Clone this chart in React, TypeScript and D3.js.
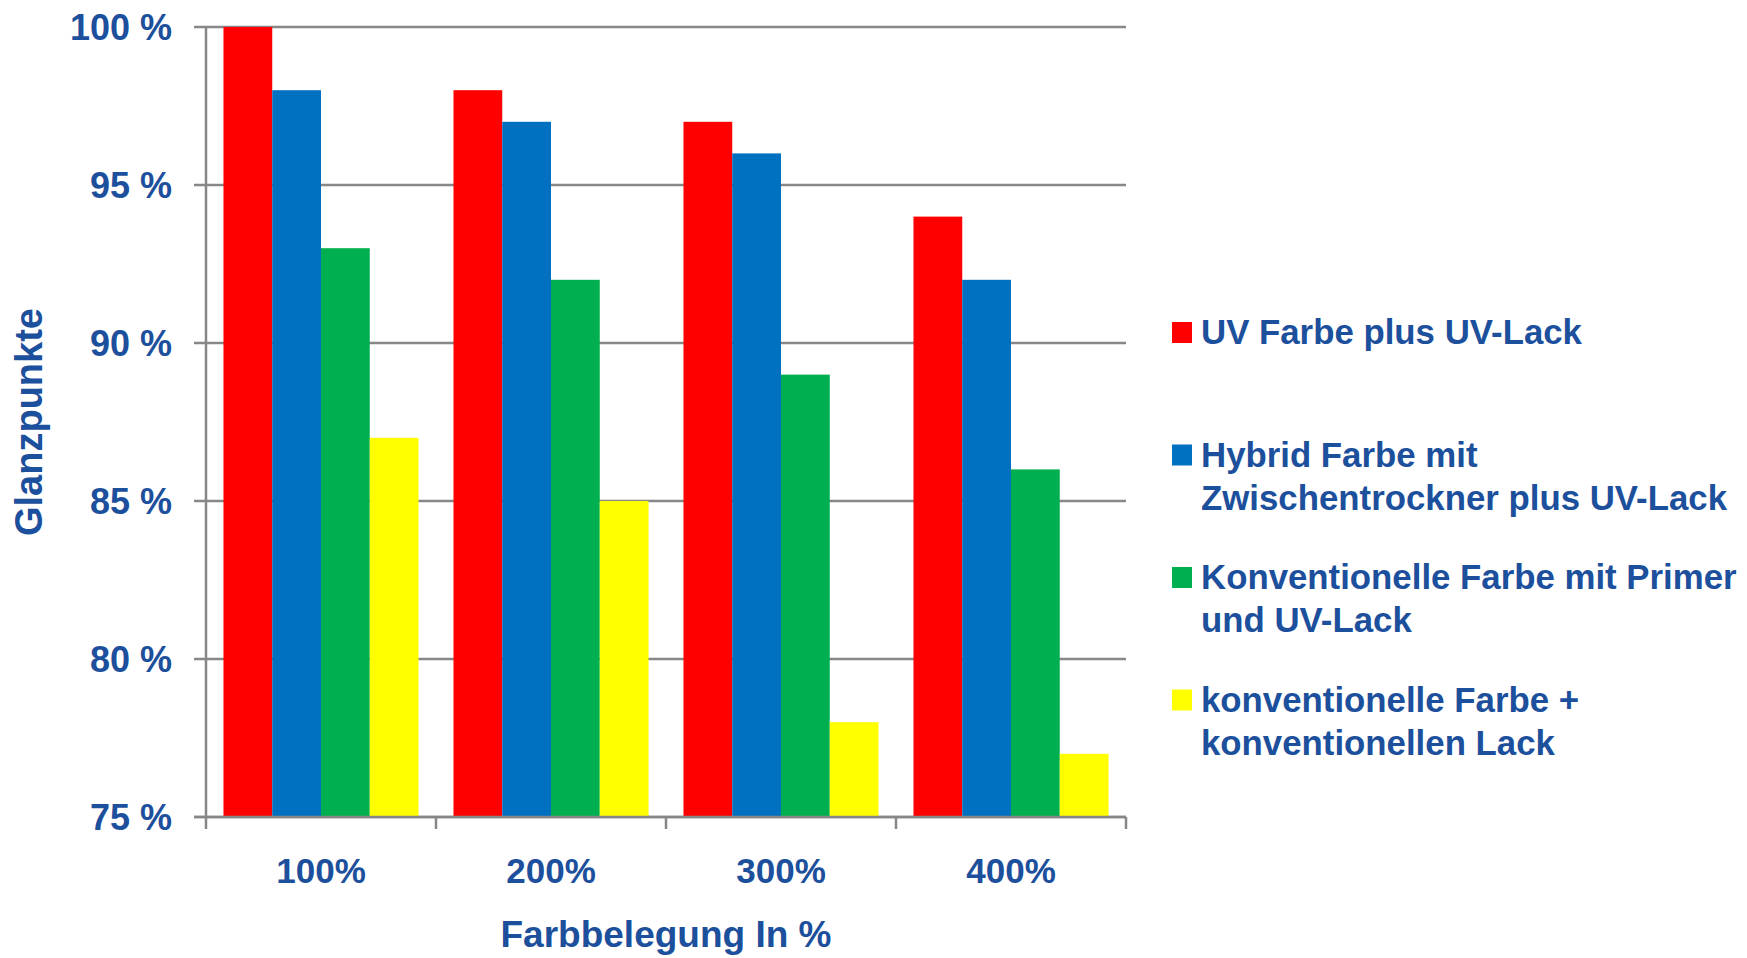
import React from 'react';
import * as d3 from 'd3';

const categories = ['100%', '200%', '300%', '400%'];
const seriesNames = [
  ['UV Farbe plus UV-Lack'],
  ['Hybrid Farbe mit', 'Zwischentrockner plus UV-Lack'],
  ['Konventionelle Farbe mit Primer', 'und UV-Lack'],
  ['konventionelle Farbe +', 'konventionellen Lack'],
];
const seriesColors = ['#ff0000', '#0070c0', '#00b050', '#ffff00'];
const uvFarbe = [100, 98, 97, 94];
const hybrid = [98, 97, 96, 92];
const konvPrimer = [93, 92, 89, 86];
const konvLack = [87, 85, 78, 77];
const yTicks = [75, 80, 85, 90, 95, 100];

const series = [uvFarbe, hybrid, konvPrimer, konvLack];

const W = 1747;
const H = 958;
const margin = { left: 206, right: 621, top: 27, bottom: 141 };
const textColor = '#1c4f9c';
const gridColor = '#878787';
const font = '"Liberation Sans", Arimo, Arial, sans-serif';

const App: React.FC = () => {
  const innerW = W - margin.left - margin.right;
  const innerH = H - margin.top - margin.bottom;

  const x0 = d3.scaleBand<string>().domain(categories).range([0, innerW]).padding(0);
  const gap = x0.bandwidth() * 0.076;
  const x1 = d3
    .scaleBand<number>()
    .domain(d3.range(series.length))
    .range([gap, x0.bandwidth() - gap])
    .padding(0);
  const y = d3.scaleLinear().domain([75, 100]).range([innerH, 0]);

  const boundaries = categories.map((c) => x0(c) as number).concat(innerW);

  return (
    <svg
      width={W}
      height={H}
      style={{ position: 'absolute', left: 0, top: 0, background: '#fff', fontFamily: font }}
      fontWeight="bold"
    >
      <g transform={`translate(${margin.left},${margin.top})`}>
        {/* gridlines + y ticks */}
        {yTicks.map((t) => (
          <g key={t}>
            <line x1={-12} x2={innerW} y1={y(t)} y2={y(t)} stroke={gridColor} strokeWidth={2.5} />
            <text
              x={-34}
              y={y(t)}
              dy="0.36em"
              textAnchor="end"
              fontSize={36}
              fill={textColor}
            >
              {`${t} %`}
            </text>
          </g>
        ))}

        {/* bars */}
        {categories.map((c, ci) => (
          <g key={c} transform={`translate(${x0(c)},0)`}>
            {series.map((s, si) => (
              <rect
                key={si}
                x={x1(si)}
                y={y(s[ci])}
                width={x1.bandwidth()}
                height={innerH - y(s[ci])}
                fill={seriesColors[si]}
              />
            ))}
          </g>
        ))}

        {/* axes */}
        <line x1={0} x2={0} y1={0} y2={innerH} stroke={gridColor} strokeWidth={2.5} />
        <line x1={-12} x2={innerW} y1={innerH} y2={innerH} stroke={gridColor} strokeWidth={2.5} />
        {boundaries.map((b, i) => (
          <line key={i} x1={b} x2={b} y1={innerH} y2={innerH + 12} stroke={gridColor} strokeWidth={2.5} />
        ))}
        {categories.map((c) => (
          <text
            key={c}
            x={(x0(c) as number) + x0.bandwidth() / 2}
            y={innerH + 66}
            textAnchor="middle"
            fontSize={35}
            fill={textColor}
          >
            {c}
          </text>
        ))}

        <text x={innerW / 2} y={innerH + 130} textAnchor="middle" fontSize={37} fill={textColor}>
          Farbbelegung In %
        </text>
      </g>

      <text
        transform={`translate(42,${margin.top + innerH / 2}) rotate(-90)`}
        textAnchor="middle"
        fontSize={38}
        fill={textColor}
      >
        Glanzpunkte
      </text>

      {/* legend */}
      <g transform="translate(1172,344)">
        {seriesNames.map((lines, i) => (
          <g key={i} transform={`translate(0,${i * 122.5})`}>
            <rect x={0} y={-22} width={20} height={21} fill={seriesColors[i]} />
            {lines.map((l, li) => (
              <text key={li} x={29} y={li * 43} fontSize={34.8} fill={textColor}>
                {l}
              </text>
            ))}
          </g>
        ))}
      </g>
    </svg>
  );
};

export default App;
